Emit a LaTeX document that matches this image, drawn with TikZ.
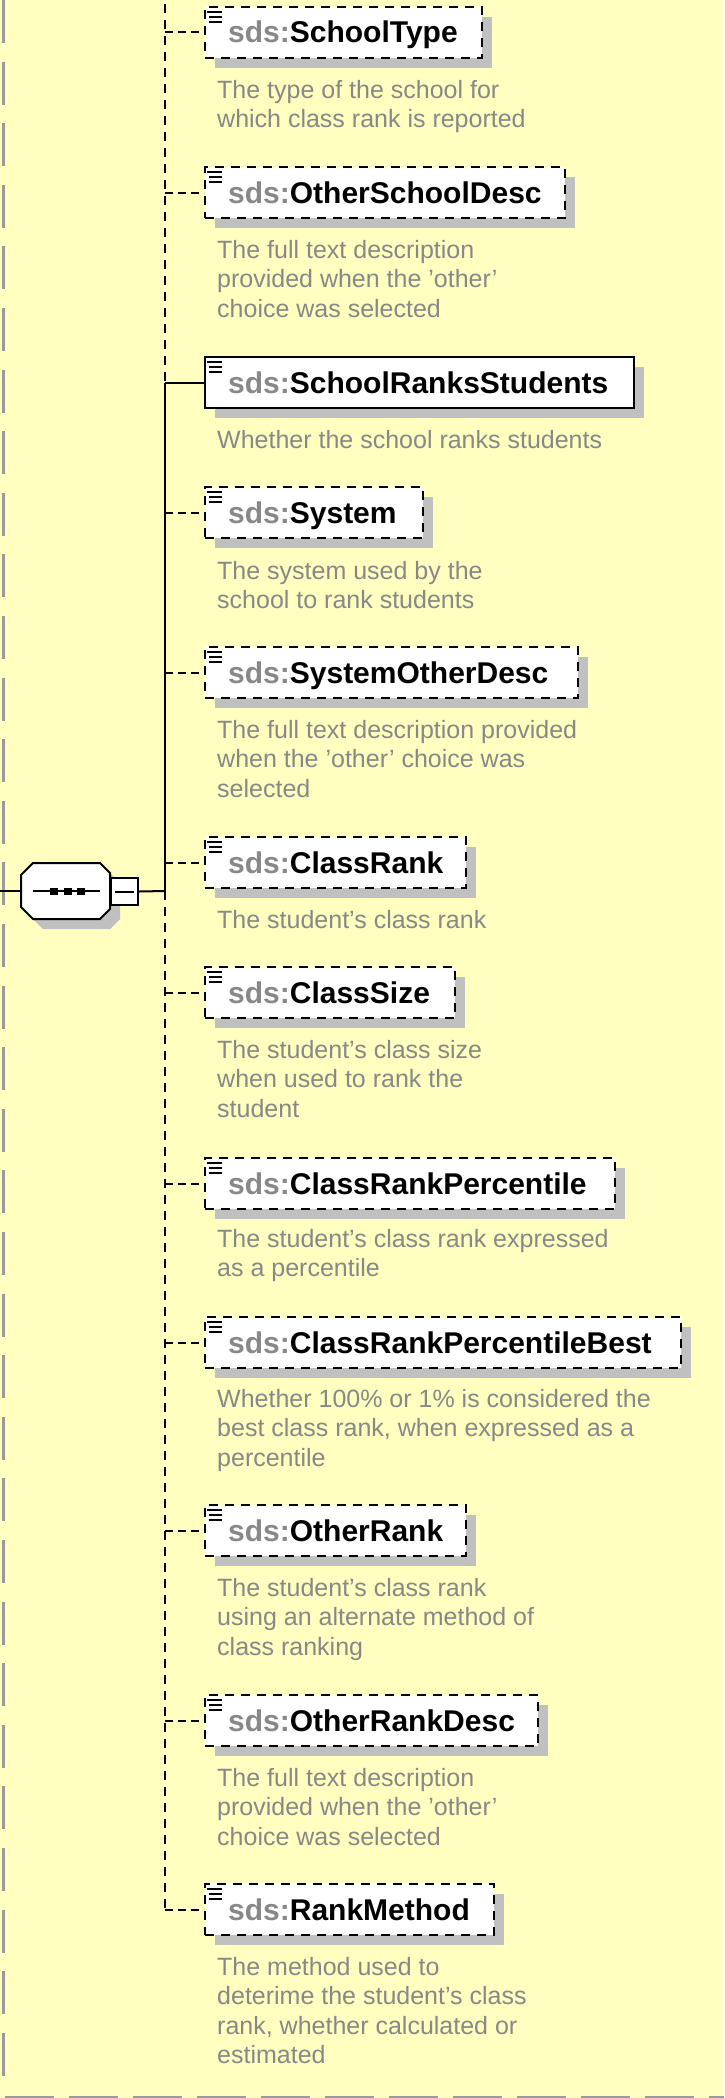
\documentclass[tikz,border=0pt]{standalone}
\usepackage{fontspec}
\setmainfont{Liberation Sans}
\usetikzlibrary{shadows}
\definecolor{bgyellow}{HTML}{FFFFC0}
\definecolor{shadowgray}{HTML}{C0C0C0}
\definecolor{txtgray}{HTML}{888888}
\definecolor{framegray}{HTML}{9A9A9A}
\tikzset{
  elbox/.style={draw=black, line width=2pt, fill=white, minimum height=51pt, inner sep=0pt, anchor=north west,
    drop shadow={shadow xshift=10pt, shadow yshift=-10pt, fill=shadowgray, opacity=1}},
  optbox/.style={elbox, dash pattern=on 9pt off 7pt},
  reqbox/.style={elbox},
  elname/.style={anchor=base west, inner sep=0pt, font=\bfseries\fontsize{30}{36}\selectfont},
  eldesc/.style={anchor=north west, inner sep=0pt, align=left, text=txtgray, font=\fontsize{25}{29.5}\selectfont},
  conn/.style={line width=2pt, black},
  optconn/.style={conn, dash pattern=on 8pt off 5pt},
  vdash/.style={conn, dash pattern=on 9pt off 7pt},
  iconline/.style={line width=2pt, black},
  frameline/.style={framegray, line width=3pt},
}
\newcommand{\elicon}[1]{%
  \draw[iconline] (207,#1+6) -- (222,#1+6);
  \draw[iconline] (209,#1+11) -- (222,#1+11);
  \draw[iconline] (209,#1+16) -- (222,#1+16);}
\begin{document}
\begin{tikzpicture}[x=1pt,y=-1pt]
\useasboundingbox (0,0) rectangle (724,2098);
\fill[bgyellow] (0,0) rectangle (724,2098);

% outer gray frame (partial)
\draw[frameline, dash pattern=on 43pt off 18.6pt] (3,0) -- (3,2088);
\draw[frameline, dash pattern=on 49pt off 15pt] (5,2097) -- (724,2097);

% element boxes
\node[optbox, minimum width=277pt] (b1) at (204,6) {};
\node[optbox, minimum width=360pt] (b2) at (204,166) {};
\node[reqbox, minimum width=429pt] (b3) at (204,356) {};
\node[optbox, minimum width=218pt] (b4) at (204,486) {};
\node[optbox, minimum width=373pt] (b5) at (204,646) {};
\node[optbox, minimum width=261pt] (b6) at (204,836) {};
\node[optbox, minimum width=250pt] (b7) at (204,966) {};
\node[optbox, minimum width=410pt] (b8) at (204,1157) {};
\node[optbox, minimum width=476pt] (b9) at (204,1316) {};
\node[optbox, minimum width=261pt] (b10) at (204,1504) {};
\node[optbox, minimum width=333pt] (b11) at (204,1694) {};
\node[optbox, minimum width=289pt] (b12) at (204,1883) {};

% icons
\elicon{6}\elicon{166}\elicon{356}\elicon{486}\elicon{646}\elicon{836}
\elicon{966}\elicon{1157}\elicon{1316}\elicon{1504}\elicon{1694}\elicon{1883}

% names
\node[elname] (n1) at (228,43) {\textcolor{txtgray}{sds:}SchoolType};
\node[elname] (n2) at (228,203) {\textcolor{txtgray}{sds:}OtherSchoolDesc};
\node[elname] (n3) at (228,393) {\textcolor{txtgray}{sds:}SchoolRanksStudents};
\node[elname] (n4) at (228,523) {\textcolor{txtgray}{sds:}System};
\node[elname] (n5) at (228,683) {\textcolor{txtgray}{sds:}SystemOtherDesc};
\node[elname] (n6) at (228,873) {\textcolor{txtgray}{sds:}ClassRank};
\node[elname] (n7) at (228,1003) {\textcolor{txtgray}{sds:}ClassSize};
\node[elname] (n8) at (228,1194) {\textcolor{txtgray}{sds:}ClassRankPercentile};
\node[elname] (n9) at (228,1353) {\textcolor{txtgray}{sds:}ClassRankPercentileBest};
\node[elname] (n10) at (228,1541) {\textcolor{txtgray}{sds:}OtherRank};
\node[elname] (n11) at (228,1731) {\textcolor{txtgray}{sds:}OtherRankDesc};
\node[elname] (n12) at (228,1920) {\textcolor{txtgray}{sds:}RankMethod};

% descriptions
\node[eldesc] (d1) at (217,80) {The type of the school for\\which class rank is reported};
\node[eldesc] (d2) at (217,240) {The full text description\\provided when the 'other'\\choice was selected};
\node[eldesc] (d3) at (217,430) {Whether the school ranks students};
\node[eldesc] (d4) at (217,561) {The system used by the\\school to rank students};
\node[eldesc] (d5) at (217,720) {The full text description provided\\when the 'other' choice was\\selected};
\node[eldesc] (d6) at (217,910) {The student's class rank};
\node[eldesc] (d7) at (217,1040) {The student's class size\\when used to rank the\\student};
\node[eldesc] (d8) at (217,1229) {The student's class rank expressed\\as a percentile};
\node[eldesc] (d9) at (217,1389) {Whether 100\% or 1\% is considered the\\best class rank, when expressed as a\\percentile};
\node[eldesc] (d10) at (217,1578) {The student's class rank\\using an alternate method of\\class ranking};
\node[eldesc] (d11) at (217,1768) {The full text description\\provided when the 'other'\\choice was selected};
\node[eldesc] (d12) at (217,1957) {The method used to\\deterime the student's class\\rank, whether calculated or\\estimated};

% sequence compositor
\coordinate (vtop) at (165,4);
\coordinate (jseq) at (165,891);
\coordinate (lefte) at (0,891);
\coordinate (seqw) at (21,891);
\fill[shadowgray] (31,885) -- (43,873) -- (110,873) -- (120,883) -- (120,919) -- (110,929) -- (43,929) -- (31,917) -- cycle;
\draw[conn, fill=white] (21,875) -- (33,863) -- (100,863) -- (110,873) -- (110,909) -- (100,919) -- (33,919) -- (21,907) -- cycle;
\draw[conn] (33,891) -- (100,891);
\fill (50,887.5) rectangle (58,894.5);
\fill (63.5,887.5) rectangle (71.5,894.5);
\fill (77,887.5) rectangle (85,894.5);
\node[draw=black, line width=2pt, fill=white, minimum size=27pt, inner sep=0pt] (seqbox) at (124.5,891.5) {};
\draw[conn] (115,891.5) -- (134,891.5);
\draw[conn] (lefte) -- (seqw);
\draw[conn] (seqbox.east) -- (jseq);

% vertical spine
\draw[vdash] (vtop) -- (vtop |- b3.west);
\draw[conn] (vtop |- b3.west) -- (jseq);
\draw[vdash] (jseq) -- (vtop |- b12.west);

% branches
\draw[optconn] (vtop |- b1.west) -- (b1.west);
\draw[optconn] (vtop |- b2.west) -- (b2.west);
\draw[conn] (vtop |- b3.west) -- (b3.west);
\draw[optconn] (vtop |- b4.west) -- (b4.west);
\draw[optconn] (vtop |- b5.west) -- (b5.west);
\draw[optconn] (vtop |- b6.west) -- (b6.west);
\draw[optconn] (vtop |- b7.west) -- (b7.west);
\draw[optconn] (vtop |- b8.west) -- (b8.west);
\draw[optconn] (vtop |- b9.west) -- (b9.west);
\draw[optconn] (vtop |- b10.west) -- (b10.west);
\draw[optconn] (vtop |- b11.west) -- (b11.west);
\draw[optconn] (vtop |- b12.west) -- (b12.west);
\end{tikzpicture}
\end{document}
